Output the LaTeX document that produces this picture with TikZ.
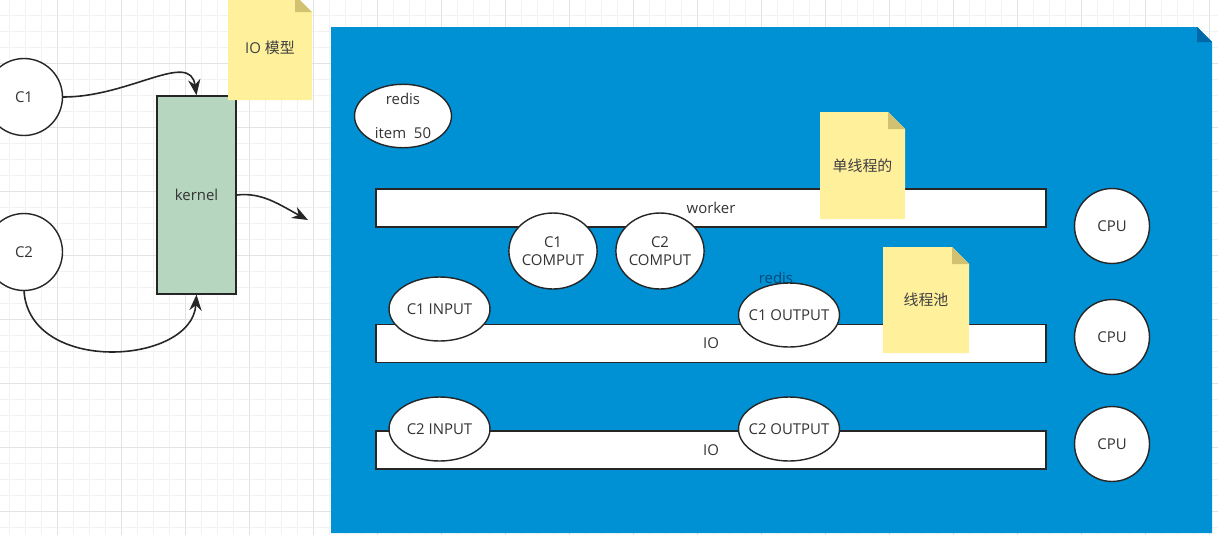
\documentclass[tikz,border=0pt]{standalone}
\usepackage{fontspec}
\setmainfont{Open Sans}
\newfontfamily\cjk{Noto Sans CJK SC}
\usetikzlibrary{shapes.geometric,arrows.meta}
\definecolor{boardblue}{HTML}{0091D5}
\definecolor{foldblue}{HTML}{0068A8}
\definecolor{notey}{HTML}{FFF09C}
\definecolor{noteyfold}{HTML}{D2C170}
\definecolor{kernelgreen}{HTML}{B7D6BF}
\definecolor{inkgray}{HTML}{262626}
\definecolor{txtgray}{HTML}{333333}
\begin{document}
\begin{tikzpicture}[x=0.02cm,y=-0.02cm,
    font=\fontsize{8.5}{10}\selectfont,
    every node/.style={text=txtgray},
    client/.style={circle,draw=inkgray,line width=0.8pt,fill=white,minimum size=1.54cm,inner sep=0pt},
    cpu/.style={circle,draw=inkgray,line width=0.8pt,fill=white,minimum size=1.5cm,inner sep=0pt},
    pill/.style={ellipse,draw=inkgray,line width=0.8pt,fill=white,minimum width=2.02cm,minimum height=1.28cm,inner ysep=0pt,inner xsep=-7pt},
    compute/.style={ellipse,draw=inkgray,line width=0.8pt,fill=white,minimum width=1.72cm,minimum height=1.52cm,inner sep=0pt,align=center},
    lane/.style={rectangle,draw=inkgray,line width=0.8pt,fill=white,minimum width=13.4cm,minimum height=0.76cm,inner sep=0pt},
    flow/.style={-{Stealth[length=9pt,width=7pt]},draw=inkgray,line width=0.9pt}]
\useasboundingbox (0,0) rectangle (1218,535);
\fill[white] (0,0) rectangle (1218,535);
% canvas grid
\foreach \gx in {9,25,...,1218} \draw[gray!10,line width=0.3pt] (\gx,0) -- (\gx,535);
\foreach \gy in {15,31,...,535} \draw[gray!10,line width=0.3pt] (0,\gy) -- (1218,\gy);
\foreach \gx in {57,121,...,1218} \draw[gray!22,line width=0.4pt] (\gx,0) -- (\gx,535);
\foreach \gy in {63,127,...,535} \draw[gray!22,line width=0.4pt] (0,\gy) -- (1218,\gy);

% left part: clients and kernel
\node[client] (c1) at (24,97) {C1};
\node[client] (c2) at (24,252) {C2};
\node[rectangle,draw=inkgray,line width=0.8pt,fill=kernelgreen,minimum width=1.58cm,minimum height=3.96cm,inner sep=0pt] (kernel) at (196.5,195) {kernel};
\coordinate (out) at (308,220);
\draw[flow] (c1.east) .. controls (130,97) and (190,50) .. (kernel.north);
\draw[flow] (c2.south) .. controls (30,375) and (192,365) .. (kernel.south);
\draw[flow] (kernel.east) .. controls (262,192) and (280,205) .. (out);

% blue board
\fill[boardblue] (331,27) -- (1197,27) -- (1212,42) -- (1212,533) -- (331,533) -- cycle;
\fill[foldblue] (1197,27) -- (1212,42) -- (1197,42) -- cycle;

\node[ellipse,draw=inkgray,line width=0.8pt,fill=white,minimum width=1.94cm,minimum height=1.2cm,inner sep=0pt,align=center] (redis) at (403,116) {redis\\[9pt]item~~50};

\node[lane] (worker) at (711,208) {worker};
\node[lane] (io1) at (711,343.5) {\raisebox{-1.2ex}{IO}};
\node[lane] (io2) at (711,450) {\raisebox{-1.2ex}{IO}};

\node[compute] (c1comp) at (553,251) {C1\\COMPUT};
\node[compute] (c2comp) at (660,251) {C2\\COMPUT};

\node[text=foldblue!70!black] (redislbl) at (776,278) {redis};
\node[pill] (c1in) at (439.5,309) {C1 INPUT};
\node[pill] (c2in) at (439.5,429) {C2 INPUT};
\node[pill] (c1out) at (789,315) {C1 OUTPUT};
\node[pill] (c2out) at (789,429) {C2 OUTPUT};

\node[cpu] (cpu1) at (1112,226) {CPU};
\node[cpu] (cpu2) at (1112,337) {CPU};
\node[cpu] (cpu3) at (1112,444) {CPU};

% sticky notes
\foreach \nx/\ny/\nw/\nh/\nm/\ntxt in {228/-5/84/105/notea/{IO \cjk 模型},
    820/112/85/107/noteb/{\cjk 单线程的},
    883/247/86/106/notec/{\cjk 线程池}} {
  \fill[notey] (\nx,\ny) -- (\nx+\nw-17,\ny) -- (\nx+\nw,\ny+17) -- (\nx+\nw,\ny+\nh) -- (\nx,\ny+\nh) -- cycle;
  \fill[noteyfold] (\nx+\nw-17,\ny) -- (\nx+\nw,\ny+17) -- (\nx+\nw-17,\ny+17) -- cycle;
  \node[text=black!75] (\nm) at (\nx+\nw/2,\ny+\nh/2) {\ntxt};
}
\end{tikzpicture}
\end{document}
